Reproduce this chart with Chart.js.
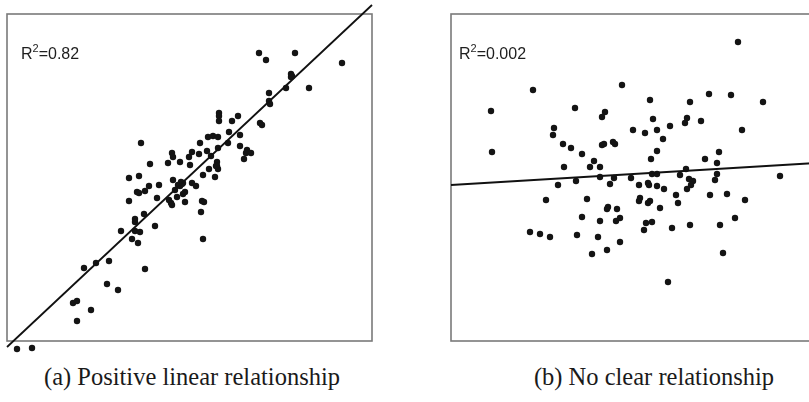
<!DOCTYPE html>
<html>
<head>
<meta charset="utf-8">
<script src="https://cdn.jsdelivr.net/npm/chart.js@4.4.1/dist/chart.umd.min.js"></script>
<style>
  html, body { margin: 0; padding: 0; background: #fff; }
  body { width: 809px; height: 402px; overflow: hidden; position: relative; }
  .cv { position: absolute; top: 0; }
  .cap { position: absolute; top: 362px; font-family: "Liberation Serif", "DejaVu Serif", serif;
         font-size: 24.5px; color: #1a1a1a; white-space: nowrap; transform: translateX(-50%); line-height: 30px; }
</style>
</head>
<body>
<div class="cv" style="left:0px;width:380px;height:360px;"><canvas id="cA"></canvas></div>
<div class="cv" style="left:444px;width:380px;height:360px;"><canvas id="cB"></canvas></div>
<div class="cap" id="capA" style="left:192px;"></div>
<div class="cap" id="capB" style="left:654px;"></div>
<script>
// ---- Data (arbitrary units; x 0..365, y 0..327 spans each box) ----
const leftX = [10,25,70,66,70,84,100,111,77,89,102,138,114,125,131,128,128,128,133,137,148,122,122,132,130,132,138,142,152,150,162,164,165,166,170,168,174,175,173,171,176,176,178,178,185,189,194,195,197,196,134,143,165,166,161,173,183,182,185,192,193,200,204,210,210,211,209,202,196,208,201,206,211,221,211,233,240,239,244,237,222,233,212,212,212,225,231,253,255,252,259,288,335,284,285,284,279,302,262,262,263];
const leftY = [-8,-7,20,38,40,31,57,51,73,78,80,72,110,102,98,122,119,110,109,127,115,140,163,165,149,148,150,155,156,143,141,138,136,161,144,151,159,157,155,156,158,147,149,139,158,155,129,140,139,102,198,177,188,184,178,179,176,184,189,187,198,190,185,179,175,172,175,172,166,164,204,205,204,198,193,195,191,188,188,182,209,206,228,225,220,220,225,218,216,288,281,288,278,267,265,264,253,253,248,240,237];
const leftFitX = [0, 365];
const leftFitY = [-6, 336];

const rightX = [82,40,41,171,124,154,151,103,102,112,120,131,151,153,162,164,143,113,139,149,149,163,182,194,202,206,212,206,200,199,219,125,159,180,107,188,197,198,206,213,201,206,95,136,189,188,199,197,209,157,156,166,131,149,165,169,195,201,193,89,99,126,147,169,156,79,141,287,258,280,312,239,236,234,250,291,254,268,266,235,229,266,329,238,242,240,264,236,225,227,259,276,294,284,221,239,269,272,217];
const rightY = [251,230,189,256,233,229,224,213,206,197,193,187,196,197,199,197,180,174,174,174,164,163,211,208,222,211,202,190,182,241,215,160,157,163,156,156,158,156,155,152,167,167,141,142,143,140,140,138,133,134,132,132,124,120,120,123,118,119,111,107,104,106,104,99,91,109,87,299,247,246,239,239,223,218,220,211,182,189,178,172,166,167,165,162,160,156,161,152,146,138,146,147,141,123,113,116,116,88,59];
const rightFitX = [0, 365];
const rightFitY = [156, 178];

const boxX = [0, 365];
const boxY = [0, 327];
const r2Values = ['0.82', '0.002'];
const captions = ['(a) Positive linear relationship', '(b) No clear relationship'];

document.getElementById('capA').textContent = captions[0];
document.getElementById('capB').textContent = captions[1];

function pts(xs, ys) { return xs.map((x, i) => ({ x: x, y: ys[i] })); }

const boxPlugin = {
  id: 'box',
  beforeDatasetsDraw(chart) {
    const sx = chart.scales.x, sy = chart.scales.y, ctx = chart.ctx;
    const l = sx.getPixelForValue(boxX[0]), r = sx.getPixelForValue(boxX[1]);
    const b = sy.getPixelForValue(boxY[0]), t = sy.getPixelForValue(boxY[1]);
    ctx.save();
    ctx.strokeStyle = '#7a7a7a';
    ctx.lineWidth = 1.6;
    ctx.strokeRect(l, t, r - l, b - t);
    ctx.restore();
  },
  afterDatasetsDraw(chart, args, opts) {
    const sx = chart.scales.x, ctx = chart.ctx;
    ctx.save();
    ctx.fillStyle = '#1e1e1e';
    ctx.textBaseline = 'alphabetic';
    let x = sx.getPixelForValue(boxX[0]) + opts.dx, y = 59;
    ctx.font = '16px "Liberation Sans", Arial, sans-serif';
    ctx.fillText('R', x, y);
    x += ctx.measureText('R').width;
    ctx.font = '11px "Liberation Sans", Arial, sans-serif';
    ctx.fillText('2', x, y - 7);
    x += ctx.measureText('2').width;
    ctx.font = '16px "Liberation Sans", Arial, sans-serif';
    ctx.fillText('=' + opts.label, x, y);
    ctx.restore();
  }
};

function makeChart(id, xs, ys, fx, fy, label, dx) {
  return new Chart(document.getElementById(id), {
    type: 'scatter',
    data: {
      datasets: [
        {
          data: pts(xs, ys),
          pointRadius: 3.2,
          pointHoverRadius: 3.2,
          pointBackgroundColor: '#141414',
          pointBorderWidth: 0,
          borderColor: '#141414',
          clip: false,
          order: 2
        },
        {
          type: 'line',
          data: pts(fx, fy),
          borderColor: '#111',
          borderWidth: 1.8,
          pointRadius: 0,
          fill: false,
          clip: false,
          order: 1
        }
      ]
    },
    options: {
      responsive: true,
      maintainAspectRatio: false,
      animation: false,
      events: [],
      layout: { padding: { left: 7, top: 14, right: 8, bottom: 7 } },
      scales: {
        x: { type: 'linear', min: 0, max: 365, display: false },
        y: { type: 'linear', min: -12, max: 327, display: false }
      },
      plugins: {
        legend: { display: false },
        tooltip: { enabled: false },
        box: { label: label, dx: dx }
      }
    },
    plugins: [boxPlugin]
  });
}

makeChart('cA', leftX, leftY, leftFitX, leftFitY, r2Values[0], 14);
makeChart('cB', rightX, rightY, rightFitX, rightFitY, r2Values[1], 8);
</script>
</body>
</html>
